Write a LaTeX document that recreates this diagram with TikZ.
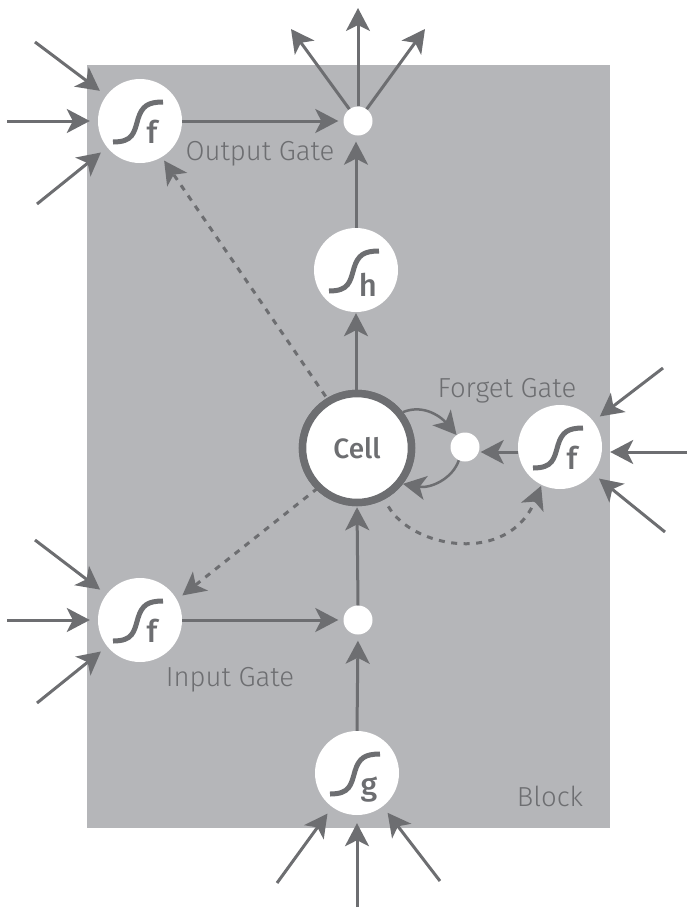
\documentclass[tikz,border=0pt]{standalone}
\usepackage{fontspec}
\setmainfont{Fira Sans}
\newfontfamily\lightf{Fira Sans Light}
\newfontfamily\medf{Fira Sans Medium}
\usetikzlibrary{arrows.meta,calc}
\definecolor{blockc}{HTML}{B5B6B9}
\definecolor{darkc}{HTML}{6D6E71}
\tikzset{
  x=1pt,y=-1pt,
  tipa/.tip={Stealth[length=23pt,width=24pt,inset=6pt]},
  conn/.style={draw=darkc,line width=3pt,-{tipa}},
  thinconn/.style={draw=darkc,line width=2.5pt,-{tipa}},
  dashconn/.style={conn,dash pattern=on 6pt off 6.5pt},
  fn/.style={circle,fill=white,minimum size=84pt,inner sep=0pt},
  dotn/.style={circle,fill=white,minimum size=29pt,inner sep=0pt},
  celln/.style={circle,fill=white,draw=darkc,line width=7.5pt,minimum size=109pt,inner sep=0pt,text=darkc,font=\medf\fontsize{28}{28}\selectfont},
  lab/.style={text=darkc,font=\lightf\fontsize{27.5}{27.5}\selectfont,anchor=base,inner sep=0pt},
  letter/.style={text=darkc,font=\medf\fontsize{31}{31}\selectfont,anchor=base,inner sep=0pt},
  sigc/.style={draw=darkc,line width=5pt},
}
\newcommand{\sigm}[1]{\draw[sigc] ([shift={(-27,21)}]#1.center) .. controls ([shift={(-7,21)}]#1.center) and ([shift={(-6,12)}]#1.center) .. ([shift={(-2,-2)}]#1.center) .. controls ([shift={(2,-15)}]#1.center) and ([shift={(8,-19)}]#1.center) .. ([shift={(23,-19)}]#1.center);}
\begin{document}
\begin{tikzpicture}
\useasboundingbox (0,0) rectangle (687,908);
\fill[blockc] (87,65) rectangle (610,828);
% free ends
\coordinate (a1) at (35,42); \coordinate (a2) at (7,121); \coordinate (a3) at (37,204);
\coordinate (b1) at (35,540); \coordinate (b2) at (7,620); \coordinate (b3) at (37,703);
\coordinate (c1) at (663,368); \coordinate (c2) at (687,452); \coordinate (c3) at (665,532);
\coordinate (d1) at (277,883); \coordinate (d2) at (357,907); \coordinate (d3) at (440,881);
\coordinate (e1) at (291,29); \coordinate (e2) at (358,8); \coordinate (e3) at (425,29);
\coordinate (dc1) at (412,548); \coordinate (dc2) at (508,566);
% nodes
\node[fn] (fo) at (140,121) {};
\node[fn] (fi) at (140,620) {};
\node[fn] (ff) at (560,447) {};
\node[fn] (fh) at (356,270) {};
\node[fn] (fg) at (357,773) {};
\node[dotn] (dto) at (358,121) {};
\node[dotn] (dti) at (358,620) {};
\node[dotn] (dtf) at (465,447) {};
\node[celln] (cell) at (357,448) {};
% letters and curves
\node[letter] (lo) at (152,143) {f};
\node[letter] (li) at (152,642) {f};
\node[letter] (lf) at (572,469) {f};
\node[letter] (lh) at (368,296) {h};
\node[letter] (lg) at (369,795) {g};
\sigm{fo}\sigm{fi}\sigm{ff}\sigm{fh}\sigm{fg}
% labels
\node[lab] (t1) at (260,160) {Output Gate};
\node[lab] (t2) at (507,397) {Forget Gate};
\node[lab] (t3) at (230,686) {Input Gate};
\node[lab] (t4) at (550,806) {Block};
% input connectors
\foreach \s/\t in {a1/fo,a2/fo,a3/fo,b1/fi,b2/fi,b3/fi,c1/ff,c3/ff,d1/fg,d2/fg,d3/fg}
  \draw[conn,shorten >=8pt] (\s) -- (\t);
\draw[conn,shorten >=8pt] (c2) -- ([yshift=-5pt]ff.east);
% outputs
\foreach \t in {e1,e2,e3}
  \draw[conn] (dto) -- (\t);
% main
\draw[conn,shorten >=5pt] (fo) -- (dto);
\draw[conn,shorten >=5pt] (fi) -- (dti);
\draw[conn,shorten >=6pt] (fh.north) -- (fh.north |- dto.south);
\draw[conn,shorten >=1pt] (cell.north -| fh.north) -- (fh.south);
\draw[conn,shorten >=1pt] (dti.north) -- (cell.south);
\draw[conn,shorten >=6pt] (fg.north) -- (dti.south);
\draw[conn,shorten >=1pt] ([yshift=-5pt]ff.west) -- ([yshift=-5pt]dtf.east);
% forget loops
\draw[thinconn] (cell.38) .. controls ($(cell.38)+(22,-9)$) and ($(dtf.135)+(-12,-18)$) .. (dtf.125);
\draw[thinconn] (dtf.245) .. controls ($(dtf.245)+(-6,18)$) and ($(cell.-38)+(28,5)$) .. (cell.-38);
% dashed
\draw[dashconn,shorten >=48pt] ([xshift=4pt]cell.center) -- ([xshift=-3pt]fo.center);
\draw[dashconn,shorten >=54pt] ([yshift=-9pt]cell.center) -- ([yshift=-9pt]fi.center);
\draw[dashconn,shorten <=8pt,shorten >=1pt] (cell.-62) .. controls (dc1) and (dc2) .. (ff.-116);
% redraw cell on top
\node[celln] (cellb) at (cell) {Cell};
\end{tikzpicture}
\end{document}
